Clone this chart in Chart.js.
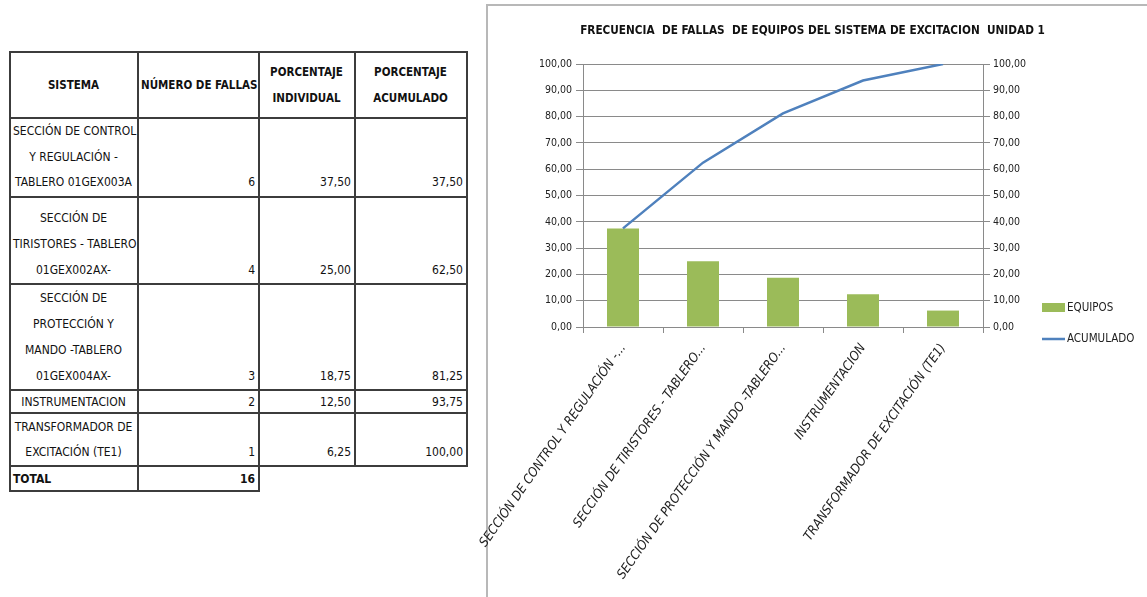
<!DOCTYPE html>
<html><head><meta charset="utf-8">
<script src="https://cdn.jsdelivr.net/npm/chart.js@4"></script>
<style>
body{margin:0;width:1147px;height:597px;overflow:hidden;background:#fff;position:relative;font-family:'DejaVu Sans Condensed','Liberation Sans Narrow',Arial,sans-serif;}
#tbl{position:absolute;left:9px;top:51px;width:459px;border-collapse:collapse;font-size:12px;color:#111;table-layout:fixed;}
#tbl td{border:2px solid #3c3c3c;padding:0 3px 0 2px;line-height:26px;vertical-align:bottom;white-space:nowrap;overflow:hidden;}
#tbl td.c{text-align:center;}
#tbl td.r{text-align:right;}
#tbl tr.h td{font-weight:bold;text-align:center;vertical-align:middle;font-size:11.5px;}
#tbl td.b{font-weight:bold;}
#tbl td.nb{border:none;}
#frame{position:absolute;left:486px;top:4px;width:661px;height:593px;border-left:2px solid #b8b8b8;border-top:2px solid #b8b8b8;box-sizing:border-box;}
#c{position:absolute;left:478px;top:6px;}
</style></head>
<body>
<table id="tbl"></table>
<div id="frame"></div>
<canvas id="c" width="669" height="591"></canvas>
<script>
// ---- data ----
const sistemas = [
  "SECCIÓN DE CONTROL\nY REGULACIÓN -\nTABLERO 01GEX003A",
  "SECCIÓN DE\nTIRISTORES - TABLERO\n01GEX002AX-",
  "SECCIÓN DE\nPROTECCIÓN Y\nMANDO -TABLERO\n01GEX004AX-",
  "INSTRUMENTACION",
  "TRANSFORMADOR DE\nEXCITACIÓN (TE1)"
];
const chartLabels = [
  "SECCIÓN DE CONTROL Y REGULACIÓN -...",
  "SECCIÓN DE TIRISTORES - TABLERO...",
  "SECCIÓN DE PROTECCIÓN Y MANDO -TABLERO...",
  "INSTRUMENTACION",
  "TRANSFORMADOR DE EXCITACIÓN (TE1)"
];
const fallas = [6, 4, 3, 2, 1];
const totalFallas = 16;
const porcentajeIndividual = [37.50, 25.00, 18.75, 12.50, 6.25];
const porcentajeAcumulado = [37.50, 62.50, 81.25, 93.75, 100.00];
const headers = ["SISTEMA", "NÚMERO DE FALLAS", "PORCENTAJE\nINDIVIDUAL", "PORCENTAJE\nACUMULADO"];
const seriesNames = ["EQUIPOS", "ACUMULADO"];
const chartTitle = "FRECUENCIA  DE FALLAS  DE EQUIPOS DEL SISTEMA DE EXCITACION  UNIDAD 1";

// ---- layout constants ----
const colWidths = [128, 121, 96, 112];
const headerHeight = 66;
const rowHeights = [76, 87, 106, 23, 53, 25];
const rowLineHeights = [25.5, 26, 26, 20, 25, 21];
const FONT = "'DejaVu Sans Condensed','Liberation Sans Narrow',Arial,sans-serif";

const fmt = v => Number(v).toFixed(2).replace('.', ',');
const br = s => s.split('\n').join('<br>');

// ---- table ----
const tbl = document.getElementById('tbl');
let html = '<colgroup>' + colWidths.map(w => `<col style="width:${w}px">`).join('') + '</colgroup>';
html += `<tr class="h" style="height:${headerHeight}px">` + headers.map(h => `<td>${br(h)}</td>`).join('') + '</tr>';
sistemas.forEach((s, i) => {
  const lh = `line-height:${rowLineHeights[i]}px`;
  html += `<tr style="height:${rowHeights[i]}px"><td class="c" style="${lh}">${br(s)}</td><td class="r" style="${lh}">${fallas[i]}</td><td class="r" style="${lh}">${fmt(porcentajeIndividual[i])}</td><td class="r" style="${lh}">${fmt(porcentajeAcumulado[i])}</td></tr>`;
});
html += `<tr style="height:${rowHeights[5]}px"><td class="b" style="line-height:${rowLineHeights[5]}px">TOTAL</td><td class="r b" style="line-height:${rowLineHeights[5]}px">${totalFallas}</td><td class="nb"></td><td class="nb"></td></tr>`;
tbl.innerHTML = html;

// ---- chart ----
const sideLegend = {
  id: 'sideLegend',
  afterDraw(chart) {
    const { ctx, chartArea } = chart;
    const x0 = chartArea.right + 59;
    let y = chartArea.bottom - 19;
    ctx.save();
    ctx.font = `11.5px ${FONT}`;
    ctx.textBaseline = 'middle';
    chart.data.datasets.forEach(ds => {
      if (ds.type === 'line') {
        ctx.strokeStyle = ds.borderColor;
        ctx.lineWidth = 2.5;
        ctx.beginPath(); ctx.moveTo(x0, y); ctx.lineTo(x0 + 23, y); ctx.stroke();
      } else {
        ctx.fillStyle = ds.backgroundColor;
        ctx.fillRect(x0, y - 5, 23, 9);
      }
      ctx.fillStyle = '#222';
      ctx.fillText(ds.label, x0 + 25, y);
      y += 31;
    });
    ctx.restore();
  }
};

const gridColor = '#8a8a8a';
const tickFont = { family: FONT, size: 10.5 };

new Chart(document.getElementById('c'), {
  type: 'bar',
  data: {
    labels: chartLabels,
    datasets: [
      { type: 'bar', label: seriesNames[0], data: porcentajeIndividual, backgroundColor: '#9BBB59',
        barPercentage: 0.4, categoryPercentage: 1, yAxisID: 'y', order: 1 },
      { type: 'line', label: seriesNames[1], data: porcentajeAcumulado, borderColor: '#4F81BD',
        borderWidth: 2.5, pointRadius: 0, tension: 0, fill: false, yAxisID: 'y', order: 0 }
    ]
  },
  options: {
    responsive: false,
    animation: false,
    devicePixelRatio: 1,
    layout: { padding: 0 },
    plugins: {
      legend: { display: false },
      tooltip: { enabled: false },
      title: { display: true, text: chartTitle, color: '#111',
        font: { family: FONT, size: 11.7, weight: 'bold' }, padding: { top: 18, bottom: 26 } }
    },
    scales: {
      x: {
        grid: { drawOnChartArea: false, tickLength: 6, color: gridColor, offset: true },
        border: { display: false },
        ticks: { autoSkip: false, minRotation: 55, maxRotation: 55, padding: 8, color: '#222',
          font: { family: FONT, size: 13, style: 'italic' } },
        afterFit(s) { s.height = 270; s.paddingLeft = 0; s.paddingRight = 0; }
      },
      y: {
        position: 'left', min: 0, max: 100,
        ticks: { stepSize: 10, callback: v => fmt(v), color: '#222', font: tickFont, padding: 4 },
        grid: { color: gridColor, tickLength: 7 },
        border: { color: gridColor },
        afterFit(s) { s.width = 105; }
      },
      y2: {
        position: 'right', min: 0, max: 100,
        ticks: { stepSize: 10, callback: v => fmt(v), color: '#222', font: tickFont, padding: 3 },
        grid: { drawOnChartArea: false, color: gridColor, tickLength: 7 },
        border: { color: gridColor },
        afterFit(s) { s.width = 164; }
      }
    }
  },
  plugins: [sideLegend]
});
</script>
</body></html>
